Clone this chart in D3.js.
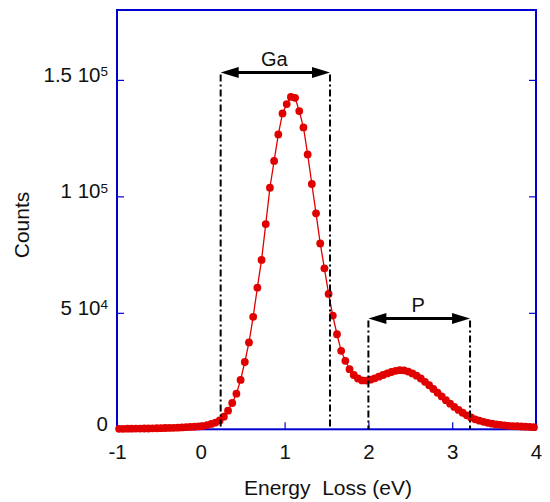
<!DOCTYPE html>
<html>
<head>
<meta charset="utf-8">
<script src="https://cdn.jsdelivr.net/npm/d3@7"></script>
<style>
  body { margin: 0; background: #fff; }
  svg { display: block; font-family: "Liberation Sans", Arial, Helvetica, sans-serif; }
</style>
</head>
<body>
<div id="chart"></div>
<script>
// energy loss grid (eV) and counts
const energy = d3.range(100).map(i => +(-0.975 + i * 0.05).toFixed(3));
const counts = [
  200, 200, 250, 250, 300, 300, 350, 350, 400, 450,
  500, 550, 600, 650, 700, 800, 900, 1000, 1100, 1250,
  1400, 1800, 2300, 2900, 3800, 5400, 8000, 11300, 15300, 21200,
  28900, 37300, 48300, 60800, 72700, 88100, 103700, 115200, 126600, 135600,
  139600, 142700, 142300, 136600, 129600, 118000, 105300, 92700, 79800, 69100,
  58100, 48800, 40800, 33700, 29400, 25800, 23300, 21800, 21000, 20900,
  21300, 21900, 22600, 23300, 24000, 24600, 25100, 25400, 25300, 24800,
  24000, 23000, 21800, 20400, 18900, 17300, 15700, 14100, 12500, 11000,
  9600, 8300, 7100, 6000, 5100, 4300, 3700, 3200, 2800, 2400,
  2100, 1900, 1700, 1500, 1400, 1300, 1200, 1100, 1000, 900
];

const xTicks = [-1, 0, 1, 2, 3, 4];
const yTicks = [0, 50000, 100000, 150000];
const yTickMant = ["0", "5 10", "1 10", "1.5 10"];
const yTickExp = ["", "4", "5", "5"];

// integration windows marked with double arrows
const windowNames = ["Ga", "P"];
const windowFrom = [0.237, 2.0];
const windowTo = [1.542, 3.213];
const windowLevel = [153200, 47600];

const width = 550;
const height = 502;
const plotLeft = 117, plotRight = 536, plotTop = 10, plotBottom = 429.3;
const red = "#e00000";
const blue = "#0000d0";

const svg = d3.select("#chart").append("svg")
    .attr("width", width)
    .attr("height", height);

const x = d3.scaleLinear().domain([-1, 4]).range([plotLeft, plotRight]);
const y = d3.scaleLinear().domain([0, 180000]).range([plotBottom, plotTop]);

// frame
svg.append("rect")
    .attr("x", plotLeft)
    .attr("y", plotTop)
    .attr("width", plotRight - plotLeft)
    .attr("height", plotBottom - plotTop)
    .attr("fill", "none")
    .attr("stroke", blue)
    .attr("stroke-width", 2);

const xAxis = svg.append("g")
    .attr("transform", `translate(0,${plotBottom})`)
    .call(d3.axisBottom(x).tickValues(xTicks).tickFormat(d => String(d))
        .tickSizeInner(-7).tickSizeOuter(0).tickPadding(15));

const yAxis = svg.append("g")
    .attr("transform", `translate(${plotLeft},0)`)
    .call(d3.axisLeft(y).tickValues(yTicks).tickSizeInner(-7).tickSizeOuter(0).tickPadding(9));

const yAxisRight = svg.append("g")
    .attr("transform", `translate(${plotRight},0)`)
    .call(d3.axisRight(y).tickValues(yTicks).tickSizeInner(-7).tickSizeOuter(0).tickFormat(""));

[xAxis, yAxis, yAxisRight].forEach(g => {
    g.select(".domain").remove();
    g.selectAll(".tick line").attr("stroke", blue).attr("stroke-width", 1.2);
    g.selectAll(".tick text")
        .attr("fill", "#111")
        .style("font-size", "20.5px")
        .style("font-family", "'Liberation Sans', Arial, Helvetica, sans-serif");
});

yAxis.selectAll(".tick text").each(function(d, i) {
    const t = d3.select(this);
    t.text(null).attr("dy", "0.08em");
    t.append("tspan").text(yTickMant[i]);
    if (yTickExp[i]) {
        t.append("tspan")
            .attr("dy", "-0.42em")
            .style("font-size", "13.5px")
            .text(yTickExp[i]);
    }
});

// axis titles
svg.append("text")
    .attr("x", 328)
    .attr("y", 495)
    .attr("text-anchor", "middle")
    .style("font-size", "21px")
    .style("white-space", "pre")
    .attr("fill", "#111")
    .text("Energy  Loss (eV)");

svg.append("text")
    .attr("transform", "translate(29,225) rotate(-90)")
    .attr("text-anchor", "middle")
    .style("font-size", "21px")
    .attr("fill", "#111")
    .text("Counts");

// spectrum
const pts = energy.map((e, i) => [e, counts[i]]);

svg.append("path")
    .datum(pts)
    .attr("fill", "none")
    .attr("stroke", red)
    .attr("stroke-width", 1.3)
    .attr("d", d3.line().x(d => x(d[0])).y(d => y(d[1])));

svg.selectAll("circle.pt")
    .data(pts)
    .enter()
    .append("circle")
    .attr("class", "pt")
    .attr("cx", d => x(d[0]))
    .attr("cy", d => y(d[1]))
    .attr("r", 3.9)
    .attr("fill", red);

// windows: dash-dot verticals + double arrow + label
const headLen = 18, headHalf = 5.5;
windowNames.forEach((name, i) => {
    const x0 = x(windowFrom[i]), x1 = x(windowTo[i]), ya = y(windowLevel[i]);
    [x0, x1].forEach(xv => {
        svg.append("line")
            .attr("x1", xv).attr("x2", xv)
            .attr("y1", ya + 2).attr("y2", y(0))
            .attr("stroke", "#000")
            .attr("stroke-width", 2)
            .attr("stroke-dasharray", "7,3,2,3");
    });
    svg.append("line")
        .attr("x1", x0 + headLen - 2).attr("x2", x1 - headLen + 2)
        .attr("y1", ya).attr("y2", ya)
        .attr("stroke", "#000")
        .attr("stroke-width", 3);
    svg.append("path")
        .attr("d", `M${x0},${ya}L${x0 + headLen},${ya - headHalf}L${x0 + headLen},${ya + headHalf}Z`)
        .attr("fill", "#000");
    svg.append("path")
        .attr("d", `M${x1},${ya}L${x1 - headLen},${ya - headHalf}L${x1 - headLen},${ya + headHalf}Z`)
        .attr("fill", "#000");
    svg.append("text")
        .attr("x", (x0 + x1) / 2 - 1)
        .attr("y", ya - 6.5)
        .attr("text-anchor", "middle")
        .style("font-size", "20px")
        .attr("fill", "#111")
        .text(name);
});
</script>
</body>
</html>
